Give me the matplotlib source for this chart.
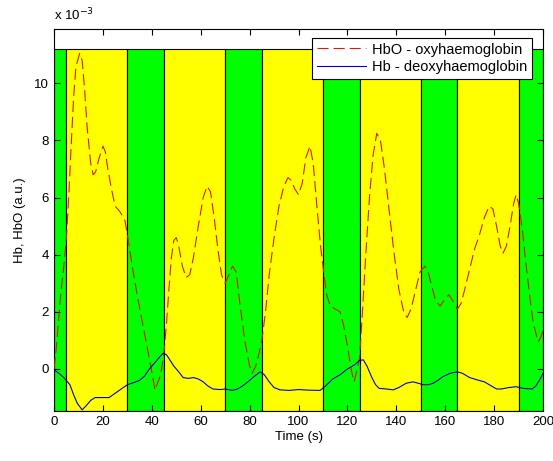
import matplotlib
matplotlib.use('Agg')
import numpy as np
import matplotlib.pyplot as plt

# block boundaries (s), green = task, yellow = rest
band_edges = [0, 5, 30, 45, 70, 85, 110, 125, 150, 165, 190, 200]
band_colors = ['#00ff00', '#ffff00']
band_bottom = -1.47
band_top = 11.2

# HbO, in units of 1e-3
t_hbo = [0, 1, 2.5, 4, 5, 6, 7, 8, 9, 10.5, 11.5, 12.5, 13.5, 15, 16, 17, 18.5, 20, 21, 22,
         23.5, 25, 27, 29, 30, 32, 34, 36, 38, 40, 41.3, 42.3, 43.2, 44, 45, 46, 47, 48, 49, 50,
         51, 52.5, 54, 55.5, 57, 59, 61, 62.6, 64, 65.5, 67, 68.5, 70, 71.5, 73, 74.5, 76, 78, 80, 81,
         82.5, 84, 85, 86.5, 88, 90, 92, 94, 95.7, 97, 98.5, 100, 101.5, 103, 104.7, 106, 107.5, 109, 110, 111.5,
         113, 115, 117, 118.5, 120, 121.5, 122.7, 124, 125, 126, 127.5, 129, 130.5, 132, 133.5, 135, 137, 139, 141, 143,
         144.4, 146, 148, 149.7, 151.7, 153, 154.5, 156, 157.9, 159.5, 161.5, 163, 165, 166.5, 168, 170, 172, 174, 176, 178,
         179.5, 181, 182.5, 183.6, 185, 186.5, 188, 189, 190, 191.5, 193, 194.5, 196, 198, 199, 200]
hbo = [0.0, 0.8, 2.4, 3.6, 4.5, 6.0, 7.8, 9.5, 10.6, 11.05, 10.8, 9.8, 8.5, 7.2, 6.8, 6.9, 7.4, 7.8, 7.6, 7.0,
       6.3, 5.7, 5.5, 5.2, 4.7, 3.6, 2.6, 1.7, 0.8, -0.1, -0.75, -0.5, -0.3, 0.0, 0.6, 1.6, 2.8, 3.9, 4.5, 4.6,
       4.3, 3.6, 3.2, 3.3, 3.9, 5.0, 6.0, 6.4, 6.2, 5.3, 4.2, 3.3, 3.0, 3.3, 3.6, 3.4, 2.3, 1.0, 0.1, -0.15,
       0.1, 0.6, 1.0, 2.0, 3.3, 4.6, 5.7, 6.4, 6.7, 6.6, 6.3, 6.1, 6.5, 7.4, 7.8, 7.2, 5.7, 4.3, 3.6, 2.6,
       2.2, 2.1, 2.0, 1.5, 0.8, 0.0, -0.45, 0.0, 0.4, 1.8, 4.0, 6.0, 7.5, 8.25, 8.0, 7.1, 5.6, 4.1, 2.8, 2.0,
       1.8, 2.1, 2.8, 3.4, 3.6, 3.4, 2.9, 2.4, 2.2, 2.4, 2.6, 2.4, 2.1, 2.3, 2.8, 3.5, 4.2, 4.7, 5.3, 5.7,
       5.6, 5.0, 4.3, 4.05, 4.3, 5.0, 5.8, 6.1, 5.8, 4.9, 3.7, 2.6, 1.6, 0.95, 1.1, 1.35]

# Hb, in units of 1e-3
t_hb = [0, 2, 4, 5, 6.5, 8, 9.5, 11.5, 13, 15, 16.8, 20, 22.5, 25, 27.5, 30, 32.5, 35, 37, 39,
        41, 43, 44.6, 46, 47.5, 49, 51, 52.8, 55, 57, 59, 61, 63, 65, 68, 70, 73, 75, 77, 80,
        82, 84.3, 86, 88, 90, 92.4, 96, 100, 104, 108.8, 111, 114, 117, 120, 123, 125, 126.5, 128, 130, 131.5,
        133, 136, 138.7, 141, 144, 146.8, 149, 151, 153, 155, 157, 159, 162, 165, 167, 170, 173, 176, 179, 181,
        183, 186, 189, 192, 195.5, 197, 198.5, 200]
hb = [-0.03, -0.15, -0.3, -0.4, -0.55, -0.9, -1.2, -1.43, -1.3, -1.1, -1.0, -1.0, -1.0, -0.85, -0.7, -0.55, -0.48, -0.4, -0.25, 0.0,
      0.2, 0.4, 0.55, 0.5, 0.3, 0.1, -0.1, -0.3, -0.33, -0.3, -0.35, -0.45, -0.6, -0.7, -0.72, -0.7, -0.75, -0.7, -0.6, -0.4,
      -0.25, -0.1, -0.2, -0.45, -0.65, -0.73, -0.75, -0.72, -0.74, -0.75, -0.6, -0.35, -0.2, 0.0, 0.15, 0.3, 0.32, 0.1, -0.3, -0.55,
      -0.68, -0.7, -0.73, -0.65, -0.5, -0.45, -0.5, -0.55, -0.55, -0.5, -0.4, -0.27, -0.15, -0.1, -0.15, -0.3, -0.38, -0.45, -0.6, -0.7,
      -0.7, -0.65, -0.62, -0.68, -0.7, -0.6, -0.4, -0.15]

plt.rcParams['font.family'] = ['Liberation Sans', 'DejaVu Sans']
fig = plt.figure(figsize=(5.53, 4.61), dpi=100)
fig.patch.set_facecolor('white')
ax = fig.add_axes([0.0977, 0.1085, 0.8843, 0.8285])

for i in range(len(band_edges) - 1):
    ax.bar(band_edges[i], band_top - band_bottom, width=band_edges[i + 1] - band_edges[i],
           bottom=band_bottom, align='edge', color=band_colors[i % 2],
           edgecolor='black', linewidth=0.8, zorder=1)

ax.plot(t_hbo, hbo, color='#d02010', linestyle=(0, (10, 4.5)), linewidth=0.8,
        label='HbO - oxyhaemoglobin', zorder=3)
ax.plot(t_hb, hb, color='#0000c8', linewidth=0.8,
        label='Hb - deoxyhaemoglobin', zorder=3)

ax.set_xlim(0, 200)
ax.set_ylim(-1.47, 11.9)
ax.set_xticks(np.arange(0, 201, 20))
ax.set_yticks(np.arange(0, 11, 2))
ax.tick_params(direction='in', top=True, right=True, labelsize=9.5, length=4, width=0.8)
for s in ax.spines.values():
    s.set_linewidth(0.8)
ax.set_xlabel('Time (s)', fontsize=9.5, labelpad=2)
ax.set_ylabel('Hb, HbO (a.u.)', fontsize=9.5, labelpad=6)
ax.text(0, 1.015, r'x 10$^{-3}$', transform=ax.transAxes, fontsize=9.5, va='bottom')

leg = ax.legend(loc='upper right', bbox_to_anchor=(0.977, 0.976), borderaxespad=0,
                fancybox=False, framealpha=1, edgecolor='black', fontsize=10.5,
                handlelength=3.4, borderpad=0.3, labelspacing=0.25, handletextpad=0.4)
leg.get_frame().set_linewidth(0.8)

fig.savefig('out.png', dpi=100)
